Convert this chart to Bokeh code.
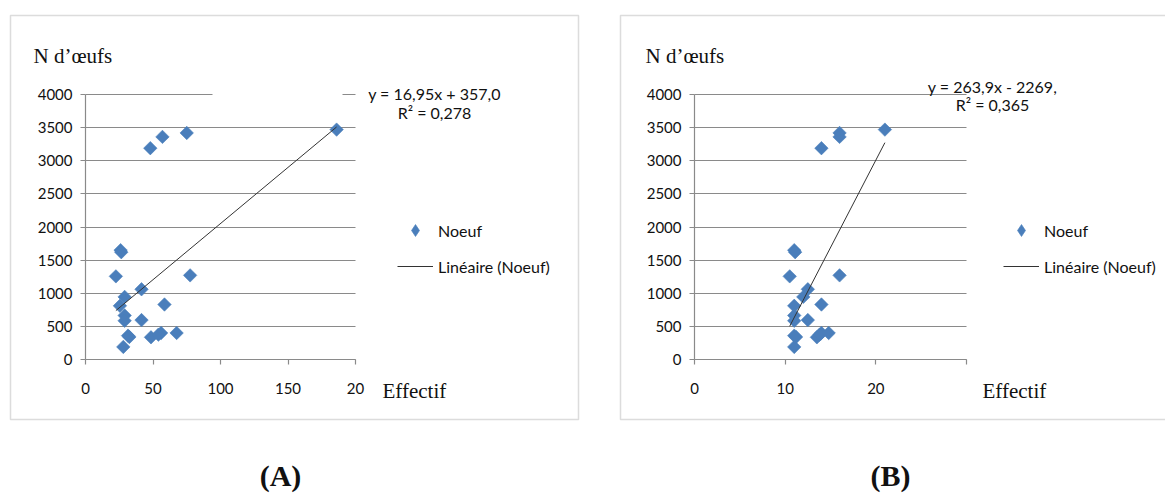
import numpy as np
from bokeh.plotting import figure
from bokeh.layouts import row
from bokeh.models import (Range1d, FixedTicker, Label, BoxAnnotation, Legend,
                          LegendItem, ColumnDataSource)
from bokeh.embed import file_html
from bokeh.resources import INLINE

# ---------------- data ----------------
eggs = [3470, 3420, 3360, 3190, 1650, 1620, 1255, 1270, 1060, 945, 810, 830,
        665, 585, 595, 360, 340, 335, 400, 375, 400, 190]
effectif_A = [186, 75, 57, 48, 26, 26.5, 22.5, 77.5, 41.5, 29, 25.5, 58.5,
              29, 29, 41.5, 31.5, 32.5, 48.5, 56, 54, 67.5, 28]
effectif_B = [21, 16, 16, 14, 11, 11.1, 10.5, 16, 12.5, 12, 11, 14,
              11, 11, 12.5, 11, 11.2, 13.5, 14, 13.8, 14.8, 11]

slope_A, intercept_A = 16.95, 357.0
slope_B, intercept_B = 263.9, -2269.0

x_ticks_A = [0, 50, 100, 150, 200]
x_tick_labels_A = ["0", "50", "100", "150", "20"]
x_ticks_B = [0, 10, 20, 30]
x_tick_labels_B = ["0", "10", "20", ""]
y_ticks = [0, 500, 1000, 1500, 2000, 2500, 3000, 3500, 4000]
y_tick_labels = [str(v) for v in y_ticks]

eq_A = ["y = 16,95x + 357,0", "R\u00b2 = 0,278"]
eq_B = ["y = 263,9x - 2269,", "R\u00b2 = 0,365"]

y_title = "N d\u2019\u0153ufs"
x_title = "Effectif"
series_name = "Noeuf"
trend_name = "Lin\u00e9aire (Noeuf)"

BLUE = "#4a7ebb"
GRAY = "#8a8a8a"
SANS = "Lato"
SERIF = "Liberation Serif"
H = 493


def panel(xs, xmax, xticks, xlabels, slope, intercept, eq, letter, g):
    # plot area (in canvas pixels): x from g["fl"] to g["fl"]+g["fw"], y from 94 to 359
    kx = g["fw"] / xmax
    ky = 265 / 4000
    xr = Range1d(-g["fl"] / kx, (g["cw"] - g["fl"]) / kx)
    yr = Range1d(-(H - 359) / ky, 4000 + 94 / ky)
    p = figure(output_backend="svg", toolbar_location=None,
               width=g["cw"], height=H, min_border=0,
               x_range=xr, y_range=yr)
    p.outline_line_color = None
    p.background_fill_color = "white"
    p.border_fill_color = "white"
    p.xgrid.visible = False
    p.ygrid.ticker = FixedTicker(ticks=y_ticks)
    p.ygrid.grid_line_color = GRAY
    p.ygrid.grid_line_width = 1.2
    p.ygrid.bounds = (0, 4000)
    p.ygrid.cross_bounds = (0, xmax)

    for ax in (p.xaxis[0], p.yaxis[0]):
        ax.axis_line_color = GRAY
        ax.axis_line_width = 1.2
        ax.major_tick_line_color = GRAY
        ax.major_tick_line_width = 1.2
        ax.major_tick_in = 0
        ax.major_tick_out = 5
        ax.minor_tick_line_color = None
        ax.major_label_text_font = SANS
        ax.major_label_text_font_size = "15px"
        ax.major_label_text_color = "#111111"
        ax.fixed_location = 0
    p.xaxis.bounds = (0, xmax)
    p.xaxis.ticker = FixedTicker(ticks=xticks)
    p.xaxis.major_label_overrides = {t: l for t, l in zip(xticks, xlabels)}
    p.xaxis.major_label_standoff = 18
    p.yaxis.bounds = (0, 4000)
    p.yaxis.ticker = FixedTicker(ticks=y_ticks)
    p.yaxis.major_label_overrides = {t: l for t, l in zip(y_ticks, y_tick_labels)}
    p.yaxis.major_label_standoff = 8

    if g.get("cover"):
        c = g["cover"]
        p.add_layout(BoxAnnotation(left=c[0], right=c[1], top=c[2], bottom=c[3],
                                   left_units="canvas", right_units="canvas",
                                   top_units="canvas", bottom_units="canvas",
                                   fill_color="white", fill_alpha=1, line_color=None,
                                   level="underlay"))

    src = ColumnDataSource(dict(x=xs, y=eggs))
    # diamond copy drawn underneath (fully hidden) – used as the legend key,
    # because legend glyphs ignore the marker rotation of the visible points
    key = p.scatter("x", "y", source=src, marker="diamond", size=11,
                    fill_color=BLUE, line_color=BLUE, line_alpha=0.6)
    p.scatter("x", "y", source=src, marker="square", angle=np.pi / 4,
              size=9.5, fill_color=BLUE, line_color=BLUE, line_alpha=0.6)
    x0, x1 = min(xs), max(xs)
    ln = p.line([x0, x1], [slope * x0 + intercept, slope * x1 + intercept],
                line_color="#333333", line_width=1)

    legend = Legend(items=[LegendItem(label=series_name, renderers=[key]),
                           LegendItem(label=trend_name, renderers=[ln])],
                    location=(g["lg"], H - 281),
                    orientation="vertical", glyph_width=36, glyph_height=30,
                    label_height=30, spacing=6, label_standoff=5, padding=0,
                    margin=0, background_fill_alpha=0, border_line_alpha=0,
                    label_text_font=SANS, label_text_font_size="16px",
                    label_text_color="#111111")
    p.add_layout(legend)

    def lab(text, x, y, font, size, style="normal", align="left"):
        p.add_layout(Label(x=x, y=y, x_units="canvas", y_units="canvas", text=text,
                           text_font=font, text_font_size=size,
                           text_font_style=style, text_align=align,
                           text_baseline="middle", text_color="#111111"))

    lab(y_title, g["yt"], 55, SERIF, "21px")
    lab(x_title, g["xt"], 390, SERIF, "21px")
    lab(eq[0], g["ex"], g["ey"][0], SANS, "16px", align="center")
    lab(eq[1], g["ex"], g["ey"][1], SANS, "16px", align="center")
    lab(letter, g["let"], 475, SERIF, "30px", style="bold", align="center")

    b = g["box"]
    p.add_layout(BoxAnnotation(left=b[0], right=b[1], top=15, bottom=419,
                               left_units="canvas", right_units="canvas",
                               top_units="canvas", bottom_units="canvas",
                               fill_color=None, fill_alpha=0,
                               line_color="#8c8c8c", line_width=1.5))
    return p


geoA = dict(cw=600, fl=85, fw=270, box=(10, 578), yt=33, xt=382, lg=397,
            ex=434, ey=(93, 112), let=280, cover=(212, 342, 90, 98))
geoB = dict(cw=565, fl=94, fw=272, box=(20, 570), yt=45, xt=382, lg=403,
            ex=392, ey=(86, 104), let=290)

pA = panel(effectif_A, 200, x_ticks_A, x_tick_labels_A, slope_A, intercept_A,
           eq_A, "(A)", geoA)
pB = panel(effectif_B, 30, x_ticks_B, x_tick_labels_B, slope_B, intercept_B,
           eq_B, "(B)", geoB)

layout = row(pA, pB, spacing=0)
open("out.html", "w").write(file_html(layout, INLINE))
